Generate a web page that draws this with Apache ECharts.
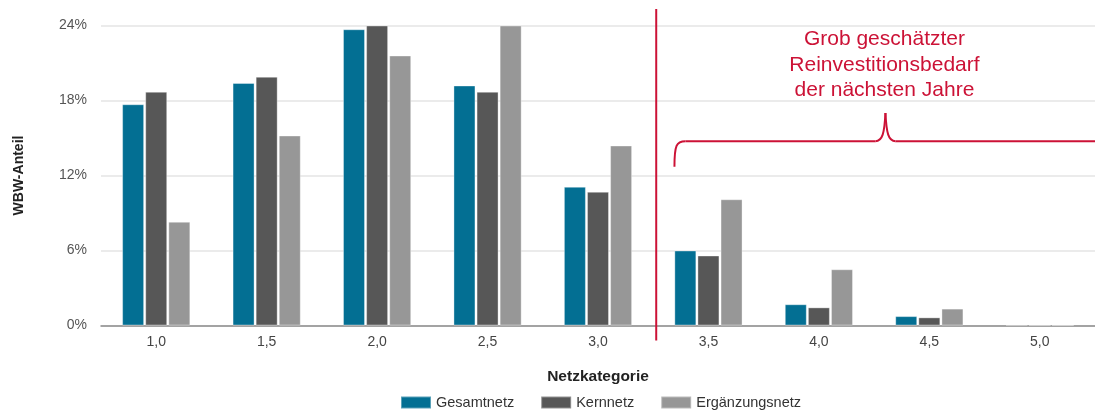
<!DOCTYPE html>
<html>
<head>
<meta charset="utf-8">
<title>WBW-Anteil nach Netzkategorie</title>
<script src="https://cdn.jsdelivr.net/npm/echarts@6/dist/echarts.min.js"></script>
<style>
  html, body { margin: 0; padding: 0; background: #ffffff; }
  #chart { width: 1095px; height: 415px; }
</style>
</head>
<body>
<div id="chart"></div>
<script>
// Network categories (condition grades)
const categories = ['1,0', '1,5', '2,0', '2,5', '3,0', '3,5', '4,0', '4,5', '5,0'];

// Share of replacement value (WBW) per category, in percent
const gesamtnetz      = [17.7, 19.4, 23.7, 19.2, 11.1, 6.0, 1.7, 0.75, 0.05];
const kernnetz        = [18.7, 19.9, 24.0, 18.7, 10.7, 5.6, 1.45, 0.65, 0.03];
const ergaenzungsnetz = [8.3, 15.2, 21.6, 24.0, 14.4, 10.1, 4.5, 1.35, 0.02];

// Value axis ticks
const yTicks = [0, 6, 12, 18, 24];

const seriesNames = ['Gesamtnetz', 'Kernnetz', 'Ergänzungsnetz'];
const seriesColors = ['#036f93', '#575757', '#979797'];
const seriesData = [gesamtnetz, kernnetz, ergaenzungsnetz];

const FONT = '"Liberation Sans", Arial, sans-serif';
const RED = '#cc1236';

const chart = echarts.init(document.getElementById('chart'), null, { renderer: 'canvas' });

chart.setOption({
  animation: false,
  textStyle: { fontFamily: FONT },
  grid: { left: 101, top: 25.5, width: 999, height: 300, containLabel: false },
  legend: {
    data: seriesNames,
    top: 395,
    left: 400,
    padding: 0,
    icon: 'rect',
    itemWidth: 30,
    itemHeight: 12,
    itemGap: 26,
    textStyle: { fontSize: 14.5, color: '#333333', fontFamily: FONT }
  },
  xAxis: {
    type: 'category',
    data: categories,
    name: 'Netzkategorie',
    nameLocation: 'middle',
    nameGap: 43,
    nameTextStyle: { fontSize: 15.5, fontWeight: 'bold', color: '#222222', fontFamily: FONT },
    axisLine: { lineStyle: { color: '#8c8c8c', width: 1.5 } },
    axisTick: { show: false },
    axisLabel: { fontSize: 14, color: '#444444', margin: 10, fontFamily: FONT }
  },
  yAxis: {
    type: 'value',
    min: yTicks[0],
    max: yTicks[yTicks.length - 1],
    interval: yTicks[1] - yTicks[0],
    name: 'WBW-Anteil',
    nameLocation: 'middle',
    nameGap: 75,
    nameRotate: 90,
    nameTextStyle: { fontSize: 14, fontWeight: 'bold', color: '#222222', fontFamily: FONT },
    axisLine: { show: false },
    axisTick: { show: false },
    axisLabel: { formatter: '{value}%', fontSize: 14, color: '#555555', margin: 14, fontFamily: FONT },
    splitLine: { lineStyle: { color: '#e4e4e4', width: 1.5 } }
  },
  series: seriesNames.map((name, i) => ({
    name: name,
    type: 'bar',
    data: seriesData[i],
    barWidth: 22,
    barGap: '5%',
    itemStyle: {
      color: seriesColors[i],
      borderColor: 'rgba(255,255,255,0.35)',
      borderWidth: 1
    }
  }))
});

// Red divider, brace and note for the range 3,5 – 5,0
function drawAnnotation() {
  const x30 = chart.convertToPixel({ xAxisIndex: 0 }, '3,0');
  const x35 = chart.convertToPixel({ xAxisIndex: 0 }, '3,5');
  const yTop = chart.convertToPixel({ yAxisIndex: 0 }, 24);
  const yZero = chart.convertToPixel({ yAxisIndex: 0 }, 0);
  const splitX = (x30 + x35) / 2 + 3;

  const braceLeft = x35 - 34;
  const braceY = chart.convertToPixel({ yAxisIndex: 0 }, 14.75);
  const braceFoot = chart.convertToPixel({ yAxisIndex: 0 }, 12.7);
  const peakY = chart.convertToPixel({ yAxisIndex: 0 }, 17);
  const peakX = x35 + 177;
  const rightEnd = 1095;
  const stroke = { stroke: RED, lineWidth: 2, fill: null };

  chart.setOption({
    graphic: [
      { type: 'line', shape: { x1: splitX, y1: yTop - 16.5, x2: splitX, y2: yZero + 15 },
        style: { stroke: RED, lineWidth: 2 }, z: 100 },
      { type: 'bezierCurve',
        shape: { x1: braceLeft, y1: braceFoot, cpx1: braceLeft, cpy1: braceY + 4,
                 cpx2: braceLeft + 2, cpy2: braceY, x2: braceLeft + 11, y2: braceY },
        style: stroke, z: 100 },
      { type: 'line', shape: { x1: braceLeft + 11, y1: braceY, x2: peakX - 10, y2: braceY },
        style: stroke, z: 100 },
      { type: 'bezierCurve',
        shape: { x1: peakX - 10, y1: braceY, cpx1: peakX - 3, cpy1: braceY,
                 cpx2: peakX - 1, cpy2: braceY - 8, x2: peakX, y2: peakY },
        style: stroke, z: 100 },
      { type: 'bezierCurve',
        shape: { x1: peakX, y1: peakY, cpx1: peakX + 1, cpy1: braceY - 8,
                 cpx2: peakX + 3, cpy2: braceY, x2: peakX + 10, y2: braceY },
        style: stroke, z: 100 },
      { type: 'line', shape: { x1: peakX + 10, y1: braceY, x2: rightEnd, y2: braceY },
        style: stroke, z: 100 },
      { type: 'text', x: peakX - 1, y: yTop + 1, z: 100,
        style: {
          text: 'Grob geschätzter\nReinvestitionsbedarf\nder nächsten Jahre',
          fontSize: 21, fontFamily: FONT, lineHeight: 25.5,
          fill: RED, align: 'center', verticalAlign: 'top'
        } }
    ]
  });
}
drawAnnotation();
</script>
</body>
</html>
